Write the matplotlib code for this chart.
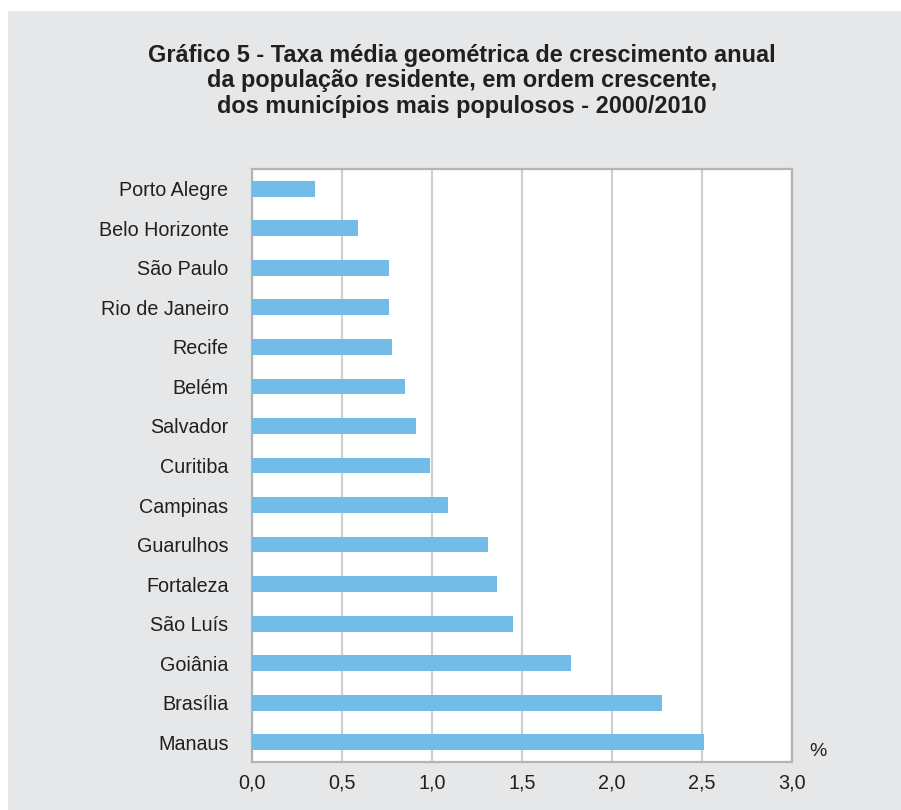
import matplotlib
matplotlib.use("Agg")
import matplotlib.pyplot as plt
from matplotlib.patches import Rectangle

cities = ["Porto Alegre", "Belo Horizonte", "São Paulo", "Rio de Janeiro", "Recife",
          "Belém", "Salvador", "Curitiba", "Campinas", "Guarulhos", "Fortaleza",
          "São Luís", "Goiânia", "Brasília", "Manaus"]
values = [0.35, 0.59, 0.76, 0.76, 0.78, 0.85, 0.91, 0.99, 1.09, 1.31, 1.36,
          1.45, 1.77, 2.28, 2.51]
xticks = [0.0, 0.5, 1.0, 1.5, 2.0, 2.5, 3.0]
xtick_labels = ["0,0", "0,5", "1,0", "1,5", "2,0", "2,5", "3,0"]
title = ("Gráfico 5 - Taxa média geométrica de crescimento anual\n"
         "da população residente, em ordem crescente,\n"
         "dos municípios mais populosos - 2000/2010")

title_font = ["Liberation Sans", "DejaVu Sans"]
label_font = ["Liberation Sans", "DejaVu Sans"]

W, H = 901, 810
fig = plt.figure(figsize=(W / 100, H / 100), dpi=100)
fig.patch.set_facecolor("white")
bg = "#e6e7e8"
fig.add_artist(Rectangle((8 / W, 0), 1 - 8 / W, 1 - 11 / H, transform=fig.transFigure,
                         facecolor=bg, edgecolor="none", zorder=0))

left, right, top, bottom = 252, 792, 169, 762
ax = fig.add_axes([left / W, 1 - bottom / H, (right - left) / W, (bottom - top) / H])
ax.set_facecolor("white")

ypos = list(range(len(cities)))
ax.barh(ypos, values, height=0.40, color="#74bce8", zorder=3)
ax.set_ylim(len(cities) - 0.5, -0.5)
ax.set_xlim(0, 3.0)
ax.set_yticks(ypos)
ax.set_yticklabels(cities)
ax.set_xticks(xticks)
ax.set_xticklabels(xtick_labels)
ax.grid(axis="x", color="#d0d0d0", linewidth=1.6, zorder=1)
ax.set_axisbelow(True)
for s in ax.spines.values():
    s.set_color("#b4b4b6")
    s.set_linewidth(1.6)
ax.tick_params(length=0, labelsize=14.2, colors="#231f20")
ax.tick_params(axis="y", pad=17)
ax.tick_params(axis="x", pad=8)
for lab in ax.get_xticklabels() + ax.get_yticklabels():
    lab.set_fontfamily(label_font)

fig.text(818 / W, 1 - 752 / H, "%", ha="center", va="center", fontsize=14,
         color="#231f20", family=label_font)

fig.text(462 / W, 1 - 81 / H, title, ha="center", va="center",
         fontsize=16.9, fontweight="bold", color="#231f20", linespacing=1.15,
         family=title_font)

fig.savefig("out.png", dpi=100, facecolor=fig.get_facecolor())
